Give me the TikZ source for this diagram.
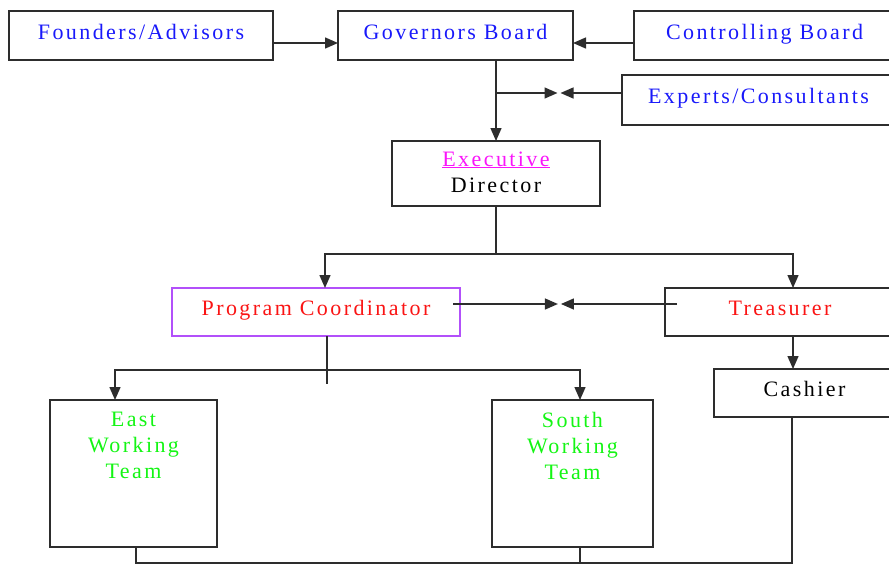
\documentclass[tikz,border=0pt]{standalone}
\usepackage{fontspec}
\setmainfont{Liberation Serif}[LetterSpace=11]
\usetikzlibrary{arrows.meta,calc}

\definecolor{linegray}{RGB}{45,45,45}
\definecolor{txtblue}{RGB}{25,25,250}
\definecolor{txtmagenta}{RGB}{250,20,250}
\definecolor{txtred}{RGB}{250,20,20}
\definecolor{txtgreen}{RGB}{20,245,20}
\definecolor{pcborder}{RGB}{178,80,250}

\begin{document}
\begin{tikzpicture}[x=1pt,y=-1pt,
  box/.style={draw=linegray, line width=1.4pt, inner sep=0pt, outer sep=0pt,
    text height=15.4pt, text depth=8.4pt,
    font=\fontsize{22}{26}\selectfont},
  txt/.style={inner sep=0pt, outer sep=0pt, align=center,
    font=\fontsize{22}{26}\selectfont},
  conn/.style={draw=linegray, line width=1.4pt},
  arr/.style={conn, -{Triangle[length=13pt,width=11pt]}}]

\useasboundingbox (0,0) rectangle (889,565);

% top row
\node[box, minimum width=264pt, minimum height=49pt, text=txtblue] (fa) at (141,35.5) {Founders/Advisors};
\node[box, minimum width=235pt, minimum height=49pt, text=txtblue] (gb) at (455.5,35.5) {Governors Board};
\node[box, minimum width=261pt, minimum height=49pt, text=txtblue] (cb) at (764.5,35.5) {Controlling Board};
\node[box, minimum width=273pt, minimum height=50pt, text=txtblue] (ex) at (758.5,100) {Experts/Consultants};

% director
\node[box, minimum width=208pt, minimum height=65pt] (ed) at (496,173.5) {};
\node[txt, anchor=north] (edt) at (496,151.5) {\textcolor{txtmagenta}{\underline{Executive}}\\Director};

% middle row
\node[box, draw=pcborder, minimum width=288pt, minimum height=48pt, text=txtred] (pc) at (316,312) {Program Coordinator};
\node[box, minimum width=230pt, minimum height=48pt, text=txtred] (tr) at (780,312) {Treasurer};
\node[box, minimum width=181pt, minimum height=48pt] (cs) at (804.5,393) {Cashier};

% working teams
\node[box, minimum width=167pt, minimum height=147pt] (et) at (133.5,473.5) {};
\node[txt, anchor=north, text=txtgreen] (ett) at (133.5,412.5) {East\\Working\\Team};
\node[box, minimum width=161pt, minimum height=147pt] (st) at (572.5,473.5) {};
\node[txt, anchor=north, text=txtgreen] (stt) at (572.5,412.5) {South\\Working\\Team};

% board links
\draw[arr] ([yshift=-7.5pt]fa.east) -- ([yshift=-7.5pt]gb.west);
\draw[arr] ([yshift=-7.5pt]cb.west) -- ([yshift=-7.5pt]gb.east);
\draw[arr] (gb.south -| ed.north) -- (ed.north);

% experts link
\coordinate (xj) at (ed.north |- 0,93);
\coordinate (xe) at ([yshift=7pt]ex.west);
\coordinate (xm) at ($(xj)!0.5!(xe)$);
\draw[arr] (xj) -- ([xshift=-1.5pt]xm);
\draw[arr] (xe) -- ([xshift=1.5pt]xm);

% director to coordinator and treasurer
\coordinate (eb) at ($(ed.south)+(0,48)$);
\draw[conn] (ed.south) -- (eb);
\draw[arr] (eb) -| ([xshift=9pt]pc.north);
\draw[arr] (eb) -| ([xshift=13pt]tr.north);

% coordinator <-> treasurer
\coordinate (pl) at ([xshift=-7pt,yshift=8pt]pc.east);
\coordinate (pr) at ([xshift=12pt,yshift=8pt]tr.west);
\coordinate (pm) at ($(pc.east)!0.485!(tr.west)$);
\draw[arr] (pl) -- ([xshift=-1.5pt,yshift=8pt]pm);
\draw[arr] (pr) -- ([xshift=1.5pt,yshift=8pt]pm);

% coordinator to working teams
\coordinate (pb) at ($([xshift=11pt]pc.south)+(0,34)$);
\draw[conn] ([xshift=11pt]pc.south) -- ++(0,48);
\draw[arr] (pb) -| ([xshift=-18.5pt]et.north);
\draw[arr] (pb) -| ([xshift=7.5pt]st.north);

% treasurer to cashier
\draw[arr] ([xshift=13pt]tr.south) -- ([xshift=13pt]tr.south |- cs.north);

% bottom return line
\draw[conn] ([xshift=2.5pt]et.south) -- ([xshift=2.5pt]et.south |- 0,563) -| ([xshift=-12.5pt]cs.south);
\draw[conn] ([xshift=7.5pt]st.south) -- ([xshift=7.5pt]st.south |- 0,563);

\end{tikzpicture}
\end{document}
